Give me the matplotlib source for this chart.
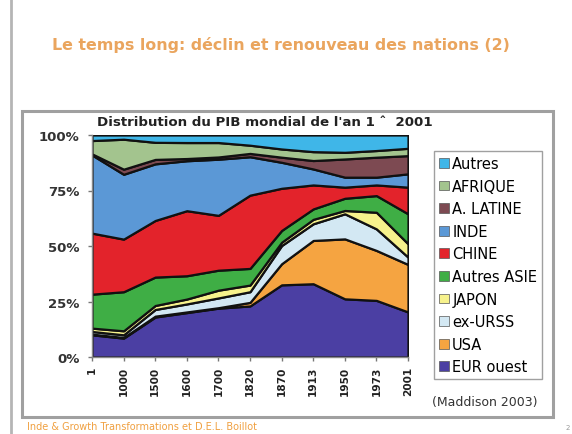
import matplotlib
matplotlib.use("Agg")
import matplotlib.pyplot as plt
import matplotlib.transforms as mtransforms
from matplotlib.patches import Patch, Rectangle
from matplotlib.lines import Line2D

plt.rcParams['font.family'] = ['DejaVu Sans']

# years (categories)
years = ['1', '1000', '1500', '1600', '1700', '1820', '1870', '1913', '1950', '1973', '2001']

# share of world GDP (%), stacked from the bottom
eur_ouest   = [10.0, 8.5, 18.0, 20.0, 22.0, 23.0, 32.5, 33.0, 26.2, 25.5, 20.3]
usa         = [0.3, 0.3, 0.4, 0.3, 0.2, 1.6, 9.5, 19.5, 27.0, 22.5, 21.4]
ex_urss     = [1.2, 1.2, 3.0, 3.6, 4.4, 4.8, 8.2, 7.5, 11.3, 9.7, 3.3]
japon       = [1.5, 1.8, 1.8, 2.2, 3.5, 3.0, 1.5, 2.0, 1.5, 7.5, 6.0]
autres_asie = [15.3, 17.6, 12.8, 10.5, 9.0, 7.5, 5.3, 4.7, 5.5, 7.5, 13.5]
chine       = [27.5, 23.7, 25.5, 29.3, 24.7, 33.0, 19.0, 10.8, 5.0, 4.8, 12.0]
inde        = [35.2, 29.2, 25.5, 22.5, 25.3, 17.3, 11.7, 7.2, 4.5, 3.5, 6.0]
a_latine    = [0.5, 2.3, 2.0, 1.0, 1.0, 1.5, 2.3, 3.8, 8.2, 9.0, 8.2]
afrique     = [6.0, 13.5, 7.7, 7.2, 6.5, 3.7, 3.7, 4.0, 3.0, 3.0, 3.3]
autres      = [2.5, 1.9, 3.3, 3.4, 3.4, 4.6, 6.3, 7.5, 7.8, 7.0, 6.0]

labels = ['EUR ouest', 'USA', 'ex-URSS', 'JAPON', 'Autres ASIE',
          'CHINE', 'INDE', 'A. LATINE', 'AFRIQUE', 'Autres']
series = [eur_ouest, usa, ex_urss, japon, autres_asie,
          chine, inde, a_latine, afrique, autres]
colors = ['#4b3fa3', '#f5a441', '#d3e8f3', '#f7f28c', '#3fae45',
          '#e3232b', '#5b98d6', '#7d4a52', '#a3c48e', '#3fb6e8']

W, H = 572, 435
fig = plt.figure(figsize=(W / 100, H / 100), dpi=100)
fig.patch.set_facecolor('white')

def fx(px):
    return px / W

def fy(py):
    return 1 - py / H

# slide border on the left
fig.add_artist(Line2D([fx(11), fx(11)], [0, 1], color='#b5b5b5', lw=2,
                      transform=fig.transFigure))

# chart frame
fig.add_artist(Rectangle((fx(22), fy(418)), fx(553) - fx(22), fy(112) - fy(418),
                         transform=fig.transFigure, fill=False,
                         edgecolor='#a0a0a0', lw=2.2))

fig.text(fx(52), fy(45), "Le temps long: déclin et renouveau des nations (2)",
         fontsize=11.4, fontweight='bold', color='#eaa55e', va='center')

fig.text(fx(97), fy(123), "Distribution du PIB mondial de l'an 1 \u02c6  2001",
         fontsize=9.6, fontweight='bold', color='#222222', va='center')

ax = fig.add_axes([fx(92), fy(358), fx(408) - fx(92), fy(136) - fy(358)])
x = list(range(len(years)))
ax.stackplot(x, *series, colors=colors, edgecolor='#111111', linewidth=1.6)
ax.set_xlim(0, len(years) - 1)
ax.set_ylim(0, 100)

ax.set_yticks([0, 25, 50, 75, 100])
ax.set_yticklabels(['0%', '25%', '50%', '75%', '100%'], fontsize=9.5,
                   fontweight='bold', color='#333333')
ax.set_xticks(x)
ax.set_xticklabels(years, rotation=90, fontsize=7.6, fontweight='bold',
                   color='#222222')
offset = mtransforms.ScaledTranslation(0.10, 0, fig.dpi_scale_trans)
for lab in ax.get_xticklabels():
    lab.set_transform(lab.get_transform() + offset)
ax.tick_params(axis='both', length=3, color='#777777', width=1)
ax.tick_params(axis='y', pad=6)
for side in ['top', 'right']:
    ax.spines[side].set_visible(False)
for side in ['left', 'bottom']:
    ax.spines[side].set_color('#888888')
    ax.spines[side].set_linewidth(1)

handles = [Patch(facecolor=c, edgecolor='#555555', lw=0.5, label=l)
           for c, l in zip(colors[::-1], labels[::-1])]
leg = fig.legend(handles=handles, loc='upper left',
                 bbox_to_anchor=(fx(434), fy(152)), bbox_transform=fig.transFigure,
                 fontsize=10.5, frameon=True, fancybox=False, edgecolor='#888888',
                 handlelength=0.65, handleheight=0.65, handletextpad=0.25,
                 labelspacing=0.52, borderpad=0.35, borderaxespad=0)
leg.get_frame().set_linewidth(1)

fig.text(fx(485), fy(403), "(Maddison 2003)", fontsize=9, color='#333333',
         ha='center', va='center')

fig.text(fx(27), fy(427), "Inde & Growth Transformations et D.E.L. Boillot",
         fontsize=7, color='#f0a040', va='center')
fig.text(fx(566), fy(428), "2", fontsize=5, color='#999999', va='center')

fig.savefig('out.png', dpi=100)
